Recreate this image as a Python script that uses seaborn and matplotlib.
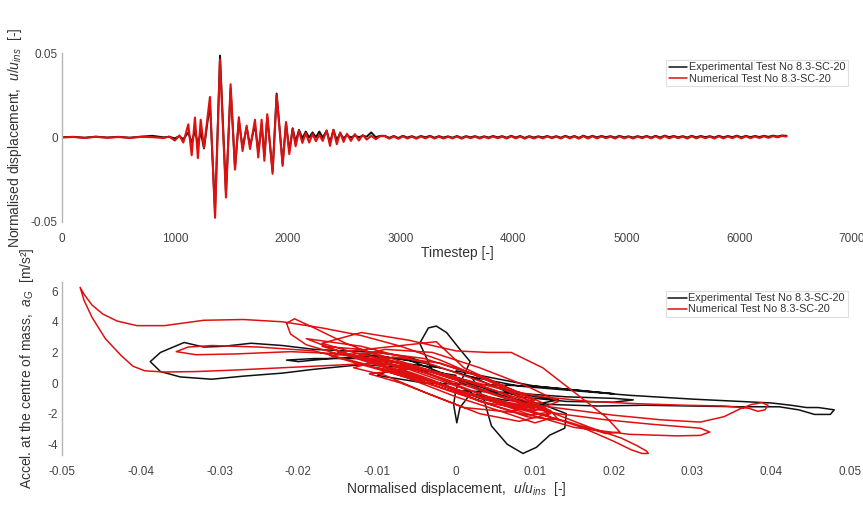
import numpy as np
import pandas as pd
import matplotlib
matplotlib.use("Agg")
import matplotlib.pyplot as plt
import seaborn as sns

sns.set_theme(style="white")
plt.rcParams['font.family'] = ['Liberation Sans', 'DejaVu Sans']
plt.rcParams['mathtext.fontset'] = 'custom'
plt.rcParams['mathtext.it'] = 'Liberation Sans:italic'
plt.rcParams['mathtext.rm'] = 'Liberation Sans'
plt.rcParams['axes.unicode_minus'] = False

# ---------------- data: time history ----------------
t_head = [0, 100, 200, 300, 400, 500, 600, 700, 800, 900,
          950, 1000, 1040, 1075,
          1119, 1149, 1178, 1204, 1229, 1258, 1311,
          1356, 1400, 1453, 1494, 1533, 1567, 1600, 1636, 1666, 1710,
          1739, 1769, 1793, 1819, 1866, 1902, 1955, 1985, 2014, 2044,
          2070, 2100, 2130, 2160, 2190, 2220, 2250, 2280, 2310, 2345,
          2375, 2405, 2435, 2465, 2495, 2525, 2560, 2595, 2630, 2665,
          2700, 2740, 2780, 2820]
u_num_head = [0.0, 0.0003, -0.0003, 0.0004, -0.0002, 0.0003, -0.0003, 0.0004, 0.0002, -0.0003,
              0.0006, -0.0018, 0.0012, -0.0030,
              0.0078, -0.0105, 0.0118, -0.0122, 0.0105, -0.0060, 0.0240,
              -0.0475, 0.0462, -0.0355, 0.0315, -0.0190, 0.0120, -0.0080, 0.0070, -0.0068, 0.0105,
              -0.0118, 0.0105, -0.0138, 0.0138, -0.0215, 0.0250, -0.0168, 0.0092, -0.0098, 0.0050,
              -0.0052, 0.0040, -0.0032, 0.0026, -0.0030, 0.0020, -0.0022, 0.0016, -0.0020, 0.0042,
              -0.0050, 0.0046, -0.0040, 0.0030, -0.0026, 0.0022, -0.0020, 0.0020, -0.0018, 0.0015,
              -0.0012, 0.0010, -0.0010, 0.0008]
u_exp_head = [0.0002, 0.0004, -0.0001, 0.0005, 0.0000, 0.0004, -0.0001, 0.0005, 0.0010, 0.0001,
              0.0004, -0.0005, 0.0008, -0.0010,
              0.0030, -0.0030, 0.0040, -0.0040, 0.0035, -0.0065, 0.0200,
              -0.0440, 0.0485, -0.0330, 0.0290, -0.0180, 0.0100, -0.0060, 0.0060, -0.0050, 0.0075,
              -0.0085, 0.0075, -0.0110, 0.0120, -0.0200, 0.0260, -0.0155, 0.0085, -0.0080, 0.0055,
              -0.0025, 0.0045, -0.0005, 0.0035, 0.0000, 0.0030, 0.0002, 0.0035, 0.0000, 0.0040,
              -0.0030, 0.0045, -0.0015, 0.0025, -0.0005, 0.0015, 0.0000, 0.0012, 0.0002, 0.0010,
              0.0005, 0.0030, 0.0002, 0.0010]

t_tail = list(range(2860, 6421, 40))
u_num_tail = [0.0008, -0.0007, 0.0006, -0.0008, 0.0007, -0.0006, 0.0005, -0.0007, 0.0006, -0.0005,
              0.0007, -0.0006, 0.0005, -0.0006, 0.0004, -0.0005, 0.0006, -0.0007, 0.0005, -0.0004,
              0.0005, -0.0006, 0.0004, -0.0005, 0.0006, -0.0004, 0.0005, -0.0006, 0.0007, -0.0005,
              0.0006, -0.0007, 0.0005, -0.0006, 0.0004, -0.0005, 0.0006, -0.0004, 0.0005, -0.0006,
              0.0007, -0.0005, 0.0006, -0.0007, 0.0008, -0.0006, 0.0007, -0.0005, 0.0006, -0.0004,
              0.0005, -0.0006, 0.0007, -0.0005, 0.0004, -0.0006, 0.0005, -0.0004, 0.0006, -0.0005,
              0.0007, -0.0006, 0.0008, -0.0005, 0.0006, -0.0004, 0.0005, -0.0006, 0.0007, -0.0005,
              0.0006, -0.0004, 0.0005, -0.0006, 0.0007, -0.0005, 0.0006, -0.0004, 0.0008, -0.0005,
              0.0007, -0.0004, 0.0006, -0.0003, 0.0007, -0.0002, 0.0008, 0.0001, 0.0009, 0.0006]
u_exp_tail = [0.0010, -0.0002, 0.0009, -0.0003, 0.0010, 0.0000, 0.0008, -0.0002, 0.0009, 0.0001,
              0.0010, -0.0001, 0.0008, 0.0000, 0.0007, -0.0001, 0.0009, -0.0002, 0.0008, 0.0001,
              0.0008, -0.0001, 0.0007, 0.0000, 0.0009, 0.0001, 0.0008, -0.0001, 0.0010, 0.0000,
              0.0009, -0.0002, 0.0008, 0.0000, 0.0007, 0.0001, 0.0009, 0.0000, 0.0008, -0.0001,
              0.0010, 0.0000, 0.0009, -0.0002, 0.0011, 0.0000, 0.0010, 0.0001, 0.0009, 0.0002,
              0.0008, 0.0000, 0.0010, 0.0001, 0.0007, 0.0000, 0.0008, 0.0001, 0.0009, 0.0000,
              0.0010, 0.0000, 0.0011, 0.0002, 0.0009, 0.0001, 0.0008, 0.0000, 0.0010, 0.0001,
              0.0009, 0.0002, 0.0008, 0.0000, 0.0010, 0.0001, 0.0009, 0.0002, 0.0011, 0.0001,
              0.0010, 0.0002, 0.0009, 0.0003, 0.0010, 0.0004, 0.0011, 0.0006, 0.0012, 0.0010]

# ---------------- data: hysteresis loops (x = u/u_ins, y = a_G) ----------------
num_x = [0.000, -0.004, -0.010, -0.016, -0.022, -0.028, -0.033, -0.037, -0.0395, -0.041,
         -0.0425, -0.0445, -0.0462, -0.0472, -0.0477, -0.0472, -0.0462, -0.0448, -0.0430, -0.0405,
         -0.037, -0.032, -0.027, -0.022, -0.017, -0.012, -0.007, -0.002, 0.003, 0.008,
         0.011, 0.012, 0.010, 0.006, 0.000, -0.006, -0.012,
         -0.018, -0.025, -0.031, -0.034, -0.0355, -0.033, -0.028, -0.021, -0.014, -0.007,
         0.000, 0.006, 0.012, 0.017, 0.021, 0.023, 0.0242, 0.0244, 0.0236, 0.0222,
         0.020, 0.016, 0.010, 0.004, -0.002, -0.008,
         -0.014, -0.018, -0.0205, -0.0215, -0.021, -0.019, -0.015, -0.010, -0.004, 0.002, 0.008,
         0.014, 0.020, 0.026, 0.031, 0.034, 0.036, 0.0375, 0.0388, 0.0396, 0.0392,
         0.0383, 0.0372, 0.034, 0.029, 0.023, 0.017, 0.011, 0.005, -0.001, -0.007, -0.013, -0.017,
         -0.012, -0.006, 0.000, 0.004, 0.007, 0.011, 0.015, 0.019, 0.0208, 0.019,
         0.014, 0.008, 0.002, -0.004, -0.010,
         -0.004, 0.003, 0.009, 0.015, 0.022, 0.028, 0.031, 0.0322, 0.031, 0.025, 0.019,
         0.013, 0.007, 0.001, -0.005, -0.011, -0.016, -0.019,
         -0.012, -0.003, 0.006, 0.012, 0.013, 0.009, 0.002, -0.005, -0.012, -0.016,
         -0.010, -0.004, 0.002, 0.008, 0.011, 0.007, 0.000, -0.007, -0.013, -0.009,
         -0.003, 0.003, 0.009, 0.013, 0.010, 0.004, -0.003, -0.009, -0.015, -0.0025,
         0.001, 0.006, 0.010, 0.007, 0.001, -0.004, -0.009, -0.013, -0.008, -0.002,
         0.004, 0.009, 0.012, 0.008, 0.003, -0.002, -0.007, -0.011, -0.005, 0.000,
         0.005, 0.010, 0.006, 0.000, -0.006, -0.011, -0.017, -0.012, -0.005, 0.002,
         0.008, 0.012, 0.009, 0.003, -0.003, -0.008]
num_y = [0.2, 0.9, 1.3, 1.15, 1.0, 0.85, 0.75, 0.72, 0.8, 1.1,
         1.8, 2.9, 4.3, 5.4, 6.25, 5.8, 5.1, 4.5, 4.05, 3.75,
         3.75, 4.1, 4.15, 4.0, 3.6, 3.1, 2.4, 1.5, 0.4, -0.8,
         -1.6, -2.3, -2.6, -1.9, -0.9, 0.3, 1.3,
         2.1, 2.35, 2.45, 2.35, 2.05, 1.85, 1.9, 2.05, 1.9, 1.3,
         0.2, -0.9, -1.9, -2.9, -3.6, -4.1, -4.45, -4.6, -4.6, -4.35,
         -3.8, -2.9, -1.9, -0.9, 0.3, 1.4,
         2.6, 3.6, 4.2, 3.9, 3.2, 2.5, 1.9, 1.5, 0.7, -0.3, -1.3,
         -1.7, -2.1, -2.4, -2.55, -2.2, -1.7, -1.4, -1.28, -1.45, -1.75,
         -1.85, -1.65, -1.5, -1.45, -1.35, -1.2, -0.9, -0.3, 0.5, 1.3, 2.0, 2.6,
         3.3, 2.8, 2.1, 2.0, 2.0, 1.0, -0.6, -2.2, -3.2, -3.3,
         -2.5, -1.7, -0.8, 0.2, 1.0,
         0.3, -0.9, -2.0, -2.9, -3.35, -3.45, -3.42, -3.2, -2.95, -2.7, -2.4,
         -2.0, -1.4, -0.6, 0.5, 1.4, 2.3, 2.9,
         2.4, 1.2, -0.4, -1.8, -2.4, -2.2, -1.0, 0.2, 1.2, 1.8,
         2.0, 1.6, 0.6, -0.6, -1.3, -1.5, -0.5, 0.8, 1.7, 2.2,
         2.0, 1.0, -0.2, -1.2, -1.8, -1.3, -0.1, 1.0, 2.0, 2.7,
         1.0, -0.2, -1.1, -1.9, -1.6, -0.6, 0.5, 1.0, 1.7, 1.3,
         0.3, -0.9, -2.0, -2.5, -2.0, -1.0, 0.0, 0.6, 1.0, 0.4,
         -0.5, -1.6, -1.2, -0.2, 0.9, 1.5, 2.4, 2.2, 1.1, 0.0,
         -1.0, -1.9, -2.1, -1.2, 0.2, 1.1]

exp_x = [0.000, -0.006, -0.012, -0.018, -0.022, -0.027, -0.031, -0.035, -0.0375, -0.0388,
         -0.0375, -0.0345, -0.032, -0.0295, -0.026, -0.022, -0.018, -0.014, -0.010, -0.006,
         -0.002,
         -0.012, -0.018, -0.0215, -0.020, -0.016, -0.010, -0.004,
         0.002, 0.008, 0.015, 0.022, 0.030, 0.036, 0.040, 0.0425, 0.0445, 0.046,
         0.048, 0.0475, 0.0455, 0.0435, 0.041, 0.036, 0.030, 0.024, 0.018, 0.012,
         0.006, 0.000,
         0.006, 0.014, 0.020, 0.0225, 0.020, 0.014, 0.008,
         0.002, 0.0035, 0.0045, 0.0065, 0.0085, 0.0102, 0.0119, 0.0138, 0.014, 0.0115,
         0.008, 0.003,
         -0.003, -0.0046, -0.0035, -0.0025, -0.0012, 0.0005, 0.0018, 0.001,
         0.000, -0.0003, 0.0001, 0.0005, 0.002,
         -0.006, -0.012, -0.006, 0.000, 0.005, 0.009, 0.013, 0.008, 0.003, -0.002,
         -0.008, -0.010, -0.004, 0.010, 0.020, 0.010, 0.000]
exp_y = [0.5, 1.0, 1.2, 0.9, 0.65, 0.45, 0.25, 0.4, 0.75, 1.4,
         2.0, 2.65, 2.35, 2.4, 2.6, 2.45, 2.2, 2.1, 2.0, 1.7,
         1.0,
         1.6, 1.6, 1.5, 1.4, 1.6, 1.8, 1.3,
         0.4, -0.2, -0.5, -0.8, -1.05, -1.2, -1.3, -1.45, -1.6, -1.6,
         -1.75, -2.05, -2.05, -1.75, -1.55, -1.55, -1.5, -1.45, -1.5, -1.4,
         -1.1, -0.5,
         -0.6, -0.9, -1.0, -1.1, -1.25, -1.2, -0.9,
         0.4, -1.0, -2.8, -4.0, -4.6, -4.2, -3.4, -2.95, -2.0, -1.5,
         -1.1, -0.4,
         0.8, 2.6, 3.6, 3.72, 3.3, 2.2, 1.4, 0.5,
         -0.4, -1.4, -2.6, -1.6, -0.6,
         1.2, 1.9, 1.5, 0.3, -0.6, -0.8, -1.1, -1.6, -1.0, 0.0,
         0.9, 0.5, 0.0, -0.2, -0.7, -0.2, 0.8]

lab_exp = "Experimental Test No 8.3-SC-20"
lab_num = "Numerical Test No 8.3-SC-20"

# ---------------- figure ----------------
W, H = 863, 511
fig = plt.figure(figsize=(W / 100, H / 100), dpi=100)
ax1 = fig.add_axes([62 / W, 1 - 222 / H, 790 / W, 169 / H])
ax2 = fig.add_axes([62 / W, 1 - 455 / H, 788 / W, 173 / H])

BLACK = "#111111"
RED = "#e01010"
GREY_T = "#444444"

df_exp = pd.DataFrame({"t": t_head + t_tail, "u": u_exp_head + u_exp_tail})
df_num = pd.DataFrame({"t": t_head + t_tail, "u": u_num_head + u_num_tail})
sns.lineplot(data=df_exp, x="t", y="u", ax=ax1, color=BLACK, lw=1.4,
             estimator=None, sort=False, label=lab_exp)
sns.lineplot(data=df_num, x="t", y="u", ax=ax1, color=RED, lw=1.5,
             estimator=None, sort=False, label=lab_num)

dh_num = pd.DataFrame({"x": num_x, "y": num_y})
dh_exp = pd.DataFrame({"x": exp_x, "y": exp_y})
sns.lineplot(data=dh_exp, x="x", y="y", ax=ax2, color=BLACK, lw=1.1,
             estimator=None, sort=False, label=lab_exp)
sns.lineplot(data=dh_num, x="x", y="y", ax=ax2, color=RED, lw=1.1,
             estimator=None, sort=False, label=lab_num)

ax1.set_xlim(0, 7000)
ax1.set_ylim(-0.05, 0.05)
ax1.set_xticks([0, 1000, 2000, 3000, 4000, 5000, 6000, 7000])
ax1.set_yticks([-0.05, 0, 0.05])
ax1.set_yticklabels(["-0.05", "0", "0.05"])
ax1.set_xlabel("Timestep [-]", fontsize=10, color="#333333", labelpad=1)
ax1.set_ylabel("Normalised displacement,  $u/u_{ins}$  [-]", fontsize=10,
               color="#333333", labelpad=5)

ax2.set_xlim(-0.05, 0.05)
ax2.set_ylim(-4.7, 6.6)
ax2.set_xticks([-0.05, -0.04, -0.03, -0.02, -0.01, 0, 0.01, 0.02, 0.03, 0.04, 0.05])
ax2.set_xticklabels(["-0.05", "-0.04", "-0.03", "-0.02", "-0.01", "0",
                     "0.01", "0.02", "0.03", "0.04", "0.05"])
ax2.set_yticks([-4, -2, 0, 2, 4, 6])
ax2.set_yticklabels(["-4", "-2", "0", "2", "4", "6"])
ax2.set_xlabel("Normalised displacement,  $u/u_{ins}$  [-]", fontsize=10,
               color="#333333", labelpad=1)
ax2.set_ylabel("Accel. at the centre of mass,  $a_G$  [m/s²]", fontsize=10,
               color="#333333", labelpad=8)

for ax in (ax1, ax2):
    for s in ("top", "right", "bottom"):
        ax.spines[s].set_visible(False)
    ax.spines["left"].set_color("#b5b5b5")
    ax.spines["left"].set_linewidth(1.0)
    ax.tick_params(axis="both", direction="in", length=5, width=0.8,
                   color="#9a9a9a", labelsize=8.5, labelcolor=GREY_T, pad=3)
    ax.tick_params(axis="x", pad=8)
    ax.grid(False)
    ax.set_facecolor("white")

leg1 = ax1.legend(loc="upper right", bbox_to_anchor=(0.995, 0.96), fontsize=7.8,
                  frameon=True, fancybox=False, edgecolor="#d8d8d8",
                  handlelength=1.7, handletextpad=0.15, borderpad=0.25,
                  labelspacing=0.1, borderaxespad=0)
leg2 = ax2.legend(loc="upper right", bbox_to_anchor=(0.997, 0.95), fontsize=7.8,
                  frameon=True, fancybox=False, edgecolor="#d8d8d8",
                  handlelength=1.7, handletextpad=0.15, borderpad=0.25,
                  labelspacing=0.1, borderaxespad=0)
for leg in (leg1, leg2):
    leg.get_frame().set_linewidth(0.8)
    for txt in leg.get_texts():
        txt.set_color("#333333")
    for line in leg.get_lines():
        line.set_linewidth(1.1)

fig.savefig("out.png", dpi=100)
